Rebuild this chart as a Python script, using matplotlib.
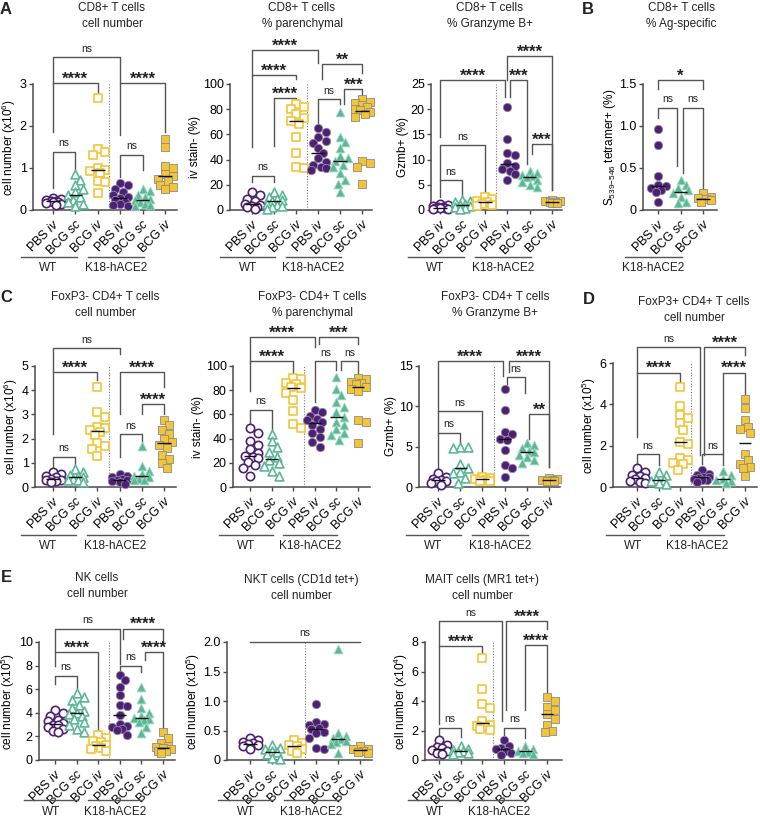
import matplotlib
matplotlib.use('Agg')
import matplotlib.pyplot as plt
import matplotlib.transforms as mtransforms
import numpy as np

plt.rcParams['font.family'] = ['Liberation Sans', 'DejaVu Sans']
plt.rcParams['mathtext.fontset'] = 'custom'
plt.rcParams['mathtext.rm'] = 'Liberation Sans'
plt.rcParams['mathtext.it'] = 'Liberation Sans:italic'
plt.rcParams['mathtext.bf'] = 'Liberation Sans:bold'
plt.rcParams['text.color'] = '#222222'

# groups / strains
group_labels = [r'PBS $\mathit{iv}$', r'BCG $\mathit{sc}$', r'BCG $\mathit{iv}$']
strains = ['WT', 'K18-hACE2']

# ---- data (order: WT PBS iv, WT BCG sc, WT BCG iv, K18 PBS iv, K18 BCG sc, K18 BCG iv)
cd8_num = [
    [0.28, 0.26, 0.24, 0.22, 0.21, 0.2, 0.18, 0.16, 0.14, 0.12],
    [0.85, 0.72, 0.6, 0.5, 0.42, 0.36, 0.3, 0.25, 0.2, 0.15, 0.1],
    [2.67, 1.45, 1.38, 1.3, 1.0, 0.95, 0.93, 0.88, 0.7, 0.67, 0.4],
    [0.65, 0.6, 0.5, 0.42, 0.36, 0.3, 0.28, 0.24, 0.2, 0.15, 0.12, 0.1],
    [0.5, 0.45, 0.36, 0.3, 0.26, 0.24, 0.2, 0.15, 0.12, 0.1],
    [1.7, 1.5, 1.05, 1.0, 0.85, 0.8, 0.75, 0.7, 0.6, 0.55, 0.5],
]
cd8_par = [
    [14, 12, 9, 7, 5, 4, 3, 2, 2, 1],
    [14, 12, 10, 9, 8, 7, 5, 4, 3, 2, 1],
    [84, 82, 80, 76, 73, 71, 68, 58, 45, 34, 33],
    [65, 62, 58, 55, 53, 49, 45, 41, 38, 36, 34, 33, 32],
    [78, 58, 54, 49, 43, 41, 39, 36, 34, 29, 24, 21, 14],
    [88, 86, 85, 83, 82, 80, 79, 78, 76, 74, 39, 37, 34, 21],
]
cd8_gzmb = [
    [1.2, 0.9, 0.7, 0.6, 0.5, 0.4, 0.3, 0.3, 0.2, 0.2],
    [2.0, 1.8, 1.5, 1.2, 1.0, 0.8, 0.5, 0.3, 0.2],
    [2.5, 2.2, 1.8, 1.5, 1.2, 1.0, 0.8],
    [20.5, 14.1, 11.3, 11.0, 9.4, 8.7, 8.2, 7.8, 7.2, 5.9],
    [7.8, 7.4, 7.0, 6.8, 6.5, 6.0, 5.6, 5.0, 4.5],
    [2.0, 1.8, 1.7, 1.5, 1.5, 1.4, 1.3],
]
cd8_tet = [
    [0.97, 0.77, 0.40, 0.30, 0.28, 0.26, 0.24, 0.22, 0.10],
    [0.36, 0.30, 0.26, 0.24, 0.20, 0.16, 0.10, 0.08],
    [0.20, 0.16, 0.14, 0.13, 0.12, 0.10],
]
cd4_num = [
    [0.6, 0.54, 0.47, 0.4, 0.34, 0.3, 0.27, 0.25, 0.2],
    [0.74, 0.6, 0.5, 0.47, 0.4, 0.34, 0.3, 0.27, 0.2],
    [4.15, 3.1, 2.9, 2.5, 2.45, 2.35, 2.28, 2.15, 1.8, 1.68, 1.57, 1.3],
    [0.54, 0.45, 0.4, 0.34, 0.3, 0.27, 0.25, 0.2, 0.13],
    [1.68, 0.87, 0.67, 0.54, 0.45, 0.4, 0.34, 0.3, 0.27],
    [2.77, 2.55, 2.35, 2.2, 1.97, 1.88, 1.74, 1.6, 1.34, 1.14, 0.98, 0.77],
]
cd4_par = [
    [49, 45, 38, 35, 31, 28, 26, 25, 24, 21, 18, 16, 9],
    [44, 38, 33, 29, 25, 22, 20, 17, 13, 9],
    [90, 89, 86, 85, 83, 82, 78, 72, 63, 52, 49],
    [64, 62, 59, 56, 55, 54, 51, 48, 45, 41, 37, 33],
    [91, 81, 76, 70, 66, 62, 58, 54, 51, 48, 45, 43, 39],
    [90, 89, 87, 86, 85, 83, 81, 79, 55, 54, 36],
]
cd4_gzmb = [
    [1.7, 1.3, 1.0, 0.9, 0.8, 0.7, 0.5, 0.3],
    [4.9, 4.9, 4.8, 2.9, 2.3, 1.9, 1.7, 1.1, 0.5],
    [1.3, 1.1, 1.0, 0.9, 0.8, 0.7],
    [12.2, 9.5, 6.8, 6.6, 6.0, 5.8, 4.6, 2.7, 2.4, 1.3],
    [5.5, 5.2, 4.8, 4.5, 4.3, 4.0, 3.7, 3.3, 3.0],
    [1.1, 1.0, 0.9, 0.9, 0.8, 0.7],
]
treg_num = [
    [0.9, 0.73, 0.6, 0.52, 0.45, 0.4, 0.3, 0.25, 0.2],
    [0.73, 0.57, 0.4, 0.35, 0.3, 0.2, 0.13],
    [4.86, 3.94, 3.48, 3.32, 3.08, 2.76, 2.19, 2.06, 1.38, 1.3, 1.17, 1.1, 0.81],
    [0.81, 0.65, 0.57, 0.5, 0.49, 0.45, 0.4, 0.35, 0.32, 0.24],
    [0.78, 0.57, 0.4, 0.35, 0.3, 0.2],
    [4.25, 3.8, 3.24, 2.92, 2.8, 2.6, 1.62, 1.3, 1.13, 0.97, 0.9, 0.52],
]
nk_num = [
    [4.24, 3.97, 3.7, 3.42, 3.3, 3.15, 3.0, 2.93, 2.8, 2.66, 2.45, 2.34],
    [5.65, 5.38, 5.1, 4.7, 4.43, 4.16, 4.0, 3.9, 3.7, 3.48, 3.2, 2.93, 2.66, 2.39],
    [2.12, 1.85, 1.58, 1.5, 1.3, 1.2, 1.03, 0.9, 0.76],
    [7.23, 6.74, 6.2, 5.52, 4.7, 4.57, 3.83, 3.07, 2.9, 2.8, 2.6, 2.53, 2.12],
    [6.2, 5.16, 4.43, 4.02, 3.75, 3.6, 3.48, 3.4, 3.2, 2.8, 2.26],
    [2.34, 1.85, 1.44, 1.17, 1.1, 1.0, 0.9, 0.8, 0.76, 0.63],
]
nkt_num = [
    [0.38, 0.34, 0.30, 0.28, 0.27, 0.25, 0.23, 0.19],
    [0.26, 0.2, 0.18, 0.15, 0.13, 0.1, 0.04, 0.02],
    [0.34, 0.29, 0.25, 0.23, 0.19, 0.15, 0.12],
    [0.95, 0.64, 0.61, 0.6, 0.54, 0.52, 0.47, 0.45, 0.37, 0.2, 0.19],
    [1.88, 0.46, 0.41, 0.37, 0.35, 0.33, 0.31, 0.27, 0.12],
    [0.23, 0.19, 0.18, 0.16, 0.14, 0.12],
]
mait_num = [
    [1.37, 1.04, 0.9, 0.83, 0.7, 0.61, 0.5, 0.43],
    [0.93, 0.72, 0.65, 0.61, 0.55, 0.5, 0.43],
    [6.91, 4.78, 3.8, 3.54, 2.67, 2.35, 2.3, 2.24, 2.13, 2.02],
    [1.37, 0.93, 0.8, 0.72, 0.61, 0.5, 0.35],
    [0.93, 0.76, 0.61, 0.55, 0.5, 0.39],
    [4.24, 4.02, 3.61, 3.37, 3.11, 2.78, 2.35, 1.96, 1.87],
]

# ---- styles
PURPLE = '#4D2172'
GREEN = '#5BB795'
YELLOW = '#F3C536'
AXC = '#4a4a4a'
open_style = [(PURPLE, 'o', False), (GREEN, '^', False), (YELLOW, 's', False)]
fill_style = [(PURPLE, 'o', True), (GREEN, '^', True), (YELLOW, 's', True)]
fill_edge = {PURPLE: '#9585ad', GREEN: '#a3d9c4', YELLOW: '#8c8c8c'}
msize = {'o': 36, '^': 40, 's': 30}

W, H = 760, 825
fig = plt.figure(figsize=(W / 100, H / 100), dpi=100)


def fx(px):
    return px / W


def fy(py):
    return 1 - py / H


def swarm(vals, ypx, xpx, d=7.0, maxoff=9.0, step=2.5):
    # simple beeswarm spread in pixel space
    cands = [0.0]
    k = 1
    while k * step <= maxoff:
        cands += [k * step, -k * step]
        k += 1
    offs = np.zeros(len(vals))
    placed = []
    for i in np.argsort(vals)[::-1]:
        y = vals[i] * ypx
        best, bestd = 0.0, -1
        for c in cands:
            md = min([np.hypot(c - px, y - py) for px, py in placed], default=1e9)
            if md >= d:
                best = c
                break
            if md > bestd:
                best, bestd = c, md
        offs[i] = best
        placed.append((best, y))
    return offs / xpx


def panel(box, tick_px, series, styles, ymax, yticks, yticklabels, ylabel,
          title, title_xy, sig, strain_rows, line_px, sep=True):
    left, right, top, bottom = box
    first, last = tick_px
    n = len(series)
    sp = (last - first) / (n - 1)
    hpx = bottom - top
    ax = fig.add_axes([fx(left), fy(bottom), (right - left) / W, hpx / H])
    ax.set_xlim(-(first - left) / sp, n - 1 + (right - last) / sp)
    ax.set_ylim(0, ymax)
    ypx = hpx / ymax

    for i, (vals, (col, mk, filled)) in enumerate(zip(series, styles)):
        vals = np.asarray(vals, float)
        xs = i + swarm(vals, ypx, sp)
        if filled:
            ax.scatter(xs, vals, s=msize[mk], marker=mk, facecolors=col,
                       edgecolors=fill_edge[col], linewidths=0.6, clip_on=False, zorder=3)
        else:
            ax.scatter(xs, vals, s=msize[mk], marker=mk, facecolors='white',
                       edgecolors=col, linewidths=1.2, clip_on=False, zorder=3)
        med = np.median(vals)
        ax.plot([i - 0.3, i + 0.3], [med, med], color='#111111', lw=1.0,
                zorder=4, solid_capstyle='butt')

    if sep:
        ax.plot([2.5, 2.5], [0, ymax], color='#777777', lw=0.8, ls=(0, (1, 1.5)), zorder=1)

    for sp_name in ['top', 'right']:
        ax.spines[sp_name].set_visible(False)
    for sp_name in ['left', 'bottom']:
        ax.spines[sp_name].set_color(AXC)
        ax.spines[sp_name].set_linewidth(1.1)

    ax.set_yticks(yticks)
    ax.set_yticklabels(yticklabels)
    ax.set_xticks(range(n))
    ax.set_xticklabels((group_labels * 2)[:n], rotation=45, ha='right',
                       rotation_mode='anchor', fontsize=9)
    ax.tick_params(axis='y', length=3, width=1, color=AXC, labelsize=9, pad=1.5)
    ax.tick_params(axis='x', length=3, width=1, color=AXC, pad=2)
    ax.set_ylabel(ylabel, fontsize=8.5, labelpad=1)

    # significance brackets
    for xa, xb, yt, ya, yb, lab in sig:
        ax.plot([xa, xa, xb, xb], [ya, yt, yt, yb], color='#555555', lw=1,
                clip_on=False, zorder=2)
        if lab == 'ns':
            ax.annotate('ns', ((xa + xb) / 2, yt), xytext=(0, 4), textcoords='offset points',
                        ha='center', va='baseline', fontsize=7.5, annotation_clip=False)
        else:
            ax.annotate(lab, ((xa + xb) / 2, yt), xytext=(0, -0.5), textcoords='offset points',
                        ha='center', va='baseline', fontsize=12, fontweight='bold',
                        annotation_clip=False)

    # strain group lines under the tick labels
    trans = mtransforms.blended_transform_factory(ax.transData, ax.transAxes)
    lp, tp = line_px
    for g0, name in strain_rows:
        yl = -(lp - bottom) / hpx
        yt_ = -(tp - bottom) / hpx
        ax.plot([g0 - 1.45, g0 + 1.05], [yl, yl], color='#555555', lw=1,
                transform=trans, clip_on=False)
        ax.text(g0 - 0.2, yt_, name, transform=trans, ha='center', va='center', fontsize=8.5)

    fig.text(fx(title_xy[0]), fy(title_xy[1]), title, ha='center', va='center',
             fontsize=8.5, linespacing=1.35)
    return ax


wt_k18 = [(0, strains[0]), (3, strains[1])]
six = open_style + fill_style
rowA, rowC, rowE = (257, 268), (535, 546), (800, 812)

# ---- row A / B
panel((33, 177, 84, 210), (53, 165), cd8_num, six, 3, [0, 1, 2, 3], ['0', '1', '2', '3'],
      'cell number (x10$^6$)', 'CD8+ T cells\ncell number', (112, 16),
      [(0, 3, 3.64, 3.02, 3.02, 'ns'), (0, 2, 3.02, 1.86, 2.75, '****'),
       (0, 1, 1.39, 0.52, 0.95, 'ns'), (3, 5, 3.02, 1.79, 1.86, '****'),
       (3, 4, 1.31, 0.79, 0.95, 'ns')], wt_k18, rowA)
panel((230, 372, 84, 210), (252, 362), cd8_par, six, 100, range(0, 101, 20),
      [str(v) for v in range(0, 101, 20)], 'iv stain- (%)',
      'CD8+ T cells\n% parenchymal', (302, 16),
      [(0, 3, 127, 107, 117, '****'), (0, 2, 107, 50, 104, '****'),
       (1, 2, 89, 51, 87, '****'), (0, 1, 27, 22, 22, 'ns'),
       (3.2, 5, 116, 104, 109, '**'), (3, 4, 88, 69, 84, 'ns'),
       (4.2, 5, 96, 84, 90, '***')], wt_k18, rowA)
panel((431, 562, 84, 210), (440, 552), cd8_gzmb, six, 25, range(0, 26, 5),
      [str(v) for v in range(0, 26, 5)], 'Gzmb+ (%)',
      'CD8+ T cells\n% Granzyme B+', (490, 16),
      [(0, 2.92, 25.7, 14.5, 22.4, '****'), (0, 2, 12.8, 5.9, 3.6, 'ns'),
       (0, 1, 5.9, 2.6, 2.6, 'ns'), (3, 5, 30.6, 25.7, 3.9, '****'),
       (3.12, 3.9, 25.7, 22.4, 9.2, '***'), (4.12, 5, 13.0, 11.2, 3.9, '***')],
      wt_k18, rowA)
panel((643, 717, 84, 210), (658, 703), cd8_tet, fill_style, 1.5, [0, 0.5, 1.0, 1.5],
      ['0', '0.5', '1.0', '1.5'], r'S$_{539\mathrm{-}546}$ tetramer+ (%)',
      'CD8+ T cells\n% Ag-specific', (681, 16),
      [(0, 2, 1.55, 1.44, 1.44, '*'), (0, 0.86, 1.22, 1.09, 0.52, 'ns'),
       (1.12, 2, 1.22, 0.44, 0.24, 'ns')], [(0, strains[1])], rowA, sep=False)

# ---- row C / D
panel((35, 176, 366, 487), (53, 164), cd4_num, six, 5, range(6), [str(v) for v in range(6)],
      'cell number (x10$^6$)', 'FoxP3- CD4+ T cells\ncell number', (105, 305),
      [(0, 3, 5.73, 4.76, 5.5, 'ns'), (0, 2, 4.76, 2.17, 4.42, '****'),
       (0, 1, 1.25, 0.75, 0.82, 'ns'), (3, 5, 4.76, 3.0, 4.15, '****'),
       (4, 5, 3.42, 3.0, 3.0, '****'), (3, 4, 2.17, 1.22, 1.83, 'ns')], wt_k18, rowC)
panel((233, 370, 366, 487), (250, 358), cd4_par, six, 100, range(0, 101, 20),
      [str(v) for v in range(0, 101, 20)], 'iv stain- (%)',
      'FoxP3- CD4+ T cells\n% parenchymal', (312, 305),
      [(0, 3, 124, 104, 116, '****'), (0, 2, 104, 79, 94, '****'),
       (0, 1, 64, 52, 48, 'ns'), (3.2, 5, 124, 118, 118, '***'),
       (3, 4, 104, 70, 97, 'ns'), (4.2, 5, 104, 97, 94, 'ns')], wt_k18, rowC)
panel((419, 560, 366, 487), (438, 549), cd4_gzmb, six, 15, [0, 5, 10, 15],
      ['0', '5', '10', '15'], 'Gzmb+ (%)',
      'FoxP3- CD4+ T cells\n% Granzyme B+', (495, 305),
      [(0, 2.92, 15.6, 9.4, 13.8, '****'), (0, 2, 9.4, 6.7, 1.5, 'ns'),
       (0, 1, 6.7, 2.4, 5.4, 'ns'), (3.2, 5, 15.6, 14.3, 2.5, '****'),
       (3.12, 3.9, 13.6, 12.8, 11.6, 'ns'), (4.12, 5, 9.0, 6.0, 2.5, '**')], wt_k18, rowC)
panel((613, 757, 363, 487), (637, 745), treg_num, six, 6, [0, 2, 4, 6], ['0', '2', '4', '6'],
      'cell number (x10$^5$)', 'FoxP3+ CD4+ T cells\ncell number', (694, 310),
      [(0, 2.93, 6.77, 5.54, 1.54, 'ns'), (0, 2, 5.54, 2.43, 5.1, '****'),
       (0, 1, 1.59, 1.05, 1.05, 'ns'), (3.1, 5, 6.77, 1.54, 6.4, '****'),
       (4, 5, 5.54, 1.62, 4.5, '****'), (3, 4, 1.59, 1.13, 1.05, 'ns')], wt_k18, rowC)

# ---- row E
panel((39, 175, 642, 760), (55, 163), nk_num, six, 10, range(0, 11, 2),
      [str(v) for v in range(0, 11, 2)], 'cell number (x10$^5$)',
      'NK cells\ncell number', (97, 586),
      [(0, 3, 11.14, 9.13, 8.1, 'ns'), (0, 2, 9.13, 7.96, 2.39, '****'),
       (0, 1, 7.15, 6.47, 6.06, 'ns'), (3.15, 5, 11.14, 10.27, 10.0, '****'),
       (4.15, 5, 9.18, 8.5, 2.66, '****'), (3, 4, 8.0, 7.55, 7.42, 'ns')], wt_k18, rowE)
panel((227, 372, 642, 760), (250, 360), nkt_num, six, 2, [0, 0.5, 1.0, 1.5, 2.0],
      ['0', '0.5', '1.0', '1.5', '2.0'], 'cell number (x10$^5$)',
      'NKT cells (CD1d tet+)\ncell number', (301, 588),
      [(0, 5, 2.0, 2.0, 2.0, 'ns')], wt_k18, rowE)
panel((425, 562, 642, 760), (439, 547), mait_num, six, 8, [0, 2, 4, 6, 8],
      ['0', '2', '4', '6', '8'], 'cell number (x10$^4$)',
      'MAIT cells (MR1 tet+)\ncell number', (482, 588),
      [(0, 2.9, 9.4, 7.72, 2.65, 'ns'), (0, 2, 7.72, 2.44, 7.18, '****'),
       (0, 1, 2.18, 1.68, 1.57, 'ns'), (3.1, 5, 9.4, 3.4, 8.9, '****'),
       (4, 5, 7.78, 3.4, 4.59, '****'), (3, 4, 2.18, 1.68, 1.47, 'ns')], wt_k18, rowE)

# panel letters
for letter, (px, py) in zip('ABCDE', [(6, 9), (588, 9), (6, 297), (589, 300), (6, 578)]):
    fig.text(fx(px), fy(py), letter, fontsize=12, fontweight='bold', ha='center', va='center')

fig.savefig('out.png', dpi=100)
